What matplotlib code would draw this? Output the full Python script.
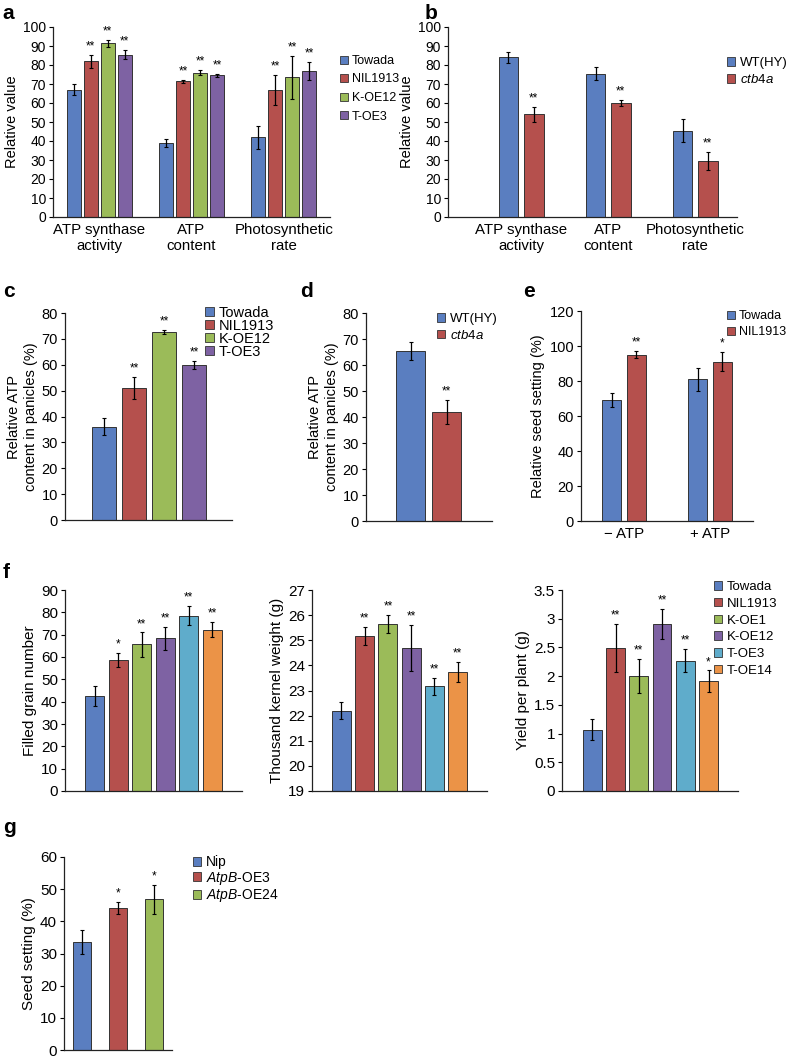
import numpy as np
import matplotlib.pyplot as plt
from matplotlib.patches import Patch
from matplotlib.ticker import FuncFormatter

plt.rcParams['font.family'] = ['Liberation Sans', 'DejaVu Sans']
plt.rcParams['mathtext.fontset'] = 'custom'
plt.rcParams['mathtext.it'] = 'Liberation Sans:italic'
plt.rcParams['mathtext.rm'] = 'Liberation Sans'

W, H = 788, 1059

# ---- data ----
blue, red, green, purple, cyan, orange = '#5A7EC0', '#B5504D', '#9BBB59', '#7E62A3', '#5FACCB', '#EB9347'
edge = '#333333'

# a
a_groups = ['ATP synthase\nactivity', 'ATP\ncontent', 'Photosynthetic\nrate']
a_lines = ['Towada', 'NIL1913', 'K-OE12', 'T-OE3']
a_towada = [67, 39, 42]
a_towada_err = [3, 2, 6]
a_nil = [82, 71.5, 67]
a_nil_err = [3.5, 0.8, 8]
a_koe12 = [91.5, 76, 73.5]
a_koe12_err = [1.8, 1.5, 11.5]
a_toe3 = [85.5, 74.5, 77]
a_toe3_err = [2.3, 0.7, 4.8]

# b
b_lines = ['WT(HY)', r'$\mathit{ctb4a}$']
b_wt = [84, 75.5, 45.5]
b_wt_err = [2.7, 3.5, 6]
b_ctb = [54, 60, 29.5]
b_ctb_err = [4, 1.5, 4.8]

# c
c_vals = [36, 51, 72.5, 60]
c_err = [3.3, 4.2, 0.8, 1.5]
c_stars = ['', '**', '**', '**']

# d
d_lines = ['WT(HY)', r'$\mathit{ctb4a}$']
d_vals = [65.5, 42]
d_err = [3.5, 4.6]

# e
e_groups = ['\u2212 ATP', '+ ATP']
e_lines = ['Towada', 'NIL1913']
e_towada = [69, 81]
e_towada_err = [4, 6.5]
e_nil = [95, 91]
e_nil_err = [2, 5.4]
e_stars = ['**', '*']

# f
f_lines = ['Towada', 'NIL1913', 'K-OE1', 'K-OE12', 'T-OE3', 'T-OE14']
f_grain = [42.5, 58.6, 65.6, 68.3, 78.5, 72.3]
f_grain_err = [4.5, 3.3, 5.4, 5.2, 4.3, 3.5]
f_grain_stars = ['', '*', '**', '**', '**', '**']
f_tkw = [22.2, 25.17, 25.65, 24.68, 23.17, 23.75]
f_tkw_err = [0.33, 0.35, 0.35, 0.92, 0.33, 0.4]
f_tkw_stars = ['', '**', '**', '**', '**', '**']
f_yield = [1.07, 2.49, 2.0, 2.91, 2.27, 1.91]
f_yield_err = [0.18, 0.42, 0.3, 0.26, 0.2, 0.19]
f_yield_stars = ['', '**', '**', '**', '**', '*']

# g
g_lines = ['Nip', r'$\mathit{AtpB}$-OE3', r'$\mathit{AtpB}$-OE24']
g_vals = [33.6, 44.2, 46.8]
g_err = [3.6, 1.8, 4.6]
g_stars = ['', '*', '*']

fig = plt.figure(figsize=(W / 100, H / 100), dpi=100)


def make_ax(x0, y0, x1, y1):
    return fig.add_axes([x0 / W, 1 - y1 / H, (x1 - x0) / W, (y1 - y0) / H])


def style(ax, lo, hi, step, fs, xlim):
    for s in ['top', 'right']:
        ax.spines[s].set_visible(False)
    for s in ['left', 'bottom']:
        ax.spines[s].set_linewidth(0.9)
        ax.spines[s].set_color('#222222')
    ax.set_ylim(lo, hi)
    ax.set_yticks(np.arange(lo, hi + step / 2, step))
    ax.yaxis.set_major_formatter(FuncFormatter(lambda v, p: '{:g}'.format(round(v, 2))))
    ax.tick_params(axis='y', labelsize=fs, length=3, width=0.8, pad=2)
    ax.tick_params(axis='x', labelsize=fs, length=0, pad=4)
    ax.set_xlim(*xlim)
    ax.set_xticks([])


def bars(ax, xs, vals, errs, colors, width, stars, star_fs=8.5):
    ax.bar(xs, vals, width, color=colors, edgecolor=edge, linewidth=0.7,
           yerr=errs, ecolor='black', error_kw=dict(elinewidth=0.9, capsize=1.2, capthick=0.8))
    lo, hi = ax.get_ylim()
    for x, v, e, s in zip(xs, vals, errs, stars):
        if s:
            ax.text(x, v + e + (hi - lo) * 0.012, s, ha='center', va='bottom', fontsize=star_fs)


def legend(ax, labels, colors, x, y, fs, spacing):
    handles = [Patch(facecolor=c, edgecolor=edge, linewidth=0.6) for c in colors]
    ax.legend(handles, labels, loc='upper left', bbox_to_anchor=(x / W, 1 - y / H),
              bbox_transform=fig.transFigure, frameon=False, fontsize=fs,
              handlelength=0.6, handleheight=0.6, handletextpad=0.35,
              labelspacing=spacing, borderpad=0, borderaxespad=0)


def letter(x, y, s):
    fig.text(x / W, 1 - y / H, s, fontsize=15, fontweight='bold', va='baseline', ha='left')


# ---- a ----
ax = make_ax(53, 27, 330, 217)
style(ax, 0, 100, 10, 10, (-0.5, 2.5))
gx = np.arange(3)
pitch, bw = 0.184, 0.152
series = [(a_towada, a_towada_err, blue, ['', '', '']),
          (a_nil, a_nil_err, red, ['**'] * 3),
          (a_koe12, a_koe12_err, green, ['**'] * 3),
          (a_toe3, a_toe3_err, purple, ['**'] * 3)]
for i, (v, e, c, st) in enumerate(series):
    bars(ax, gx + (i - 1.5) * pitch, v, e, c, bw, st)
ax.set_xticks(gx)
ax.set_xticklabels(a_groups, fontsize=10.8)
ax.set_ylabel('Relative value', fontsize=10.5, labelpad=3)
legend(ax, a_lines, [blue, red, green, purple], 340, 55, 9, 0.52)
letter(2, 19, 'a')

# ---- b ----
ax = make_ax(448, 27, 737, 217)
style(ax, 0, 100, 10, 10, (-0.84, 2.48))
pitch, bw = 0.29, 0.225
bars(ax, gx - pitch / 2, b_wt, b_wt_err, blue, bw, ['', '', ''])
bars(ax, gx + pitch / 2, b_ctb, b_ctb_err, red, bw, ['**'] * 3)
ax.set_xticks(gx)
ax.set_xticklabels(a_groups, fontsize=10.8)
ax.set_ylabel('Relative value', fontsize=10.5, labelpad=3)
legend(ax, b_lines, [blue, red], 727, 57, 9.5, 0.32)
letter(425, 19, 'b')

# ---- c ----
ax = make_ax(65, 313, 232, 520)
style(ax, 0, 80, 10, 10.5, (-1.3, 4.27))
bars(ax, np.arange(4), c_vals, c_err, [blue, red, green, purple], 0.8, c_stars)
ax.set_ylabel('Relative ATP\ncontent in panicles (%)', fontsize=10.5, labelpad=3)
legend(ax, a_lines, [blue, red, green, purple], 205, 306, 10.5, -0.08)
letter(3, 297, 'c')

# ---- d ----
ax = make_ax(366, 313, 492, 521)
style(ax, 0, 80, 10, 10.5, (-1.24, 2.26))
bars(ax, np.arange(2), d_vals, d_err, [blue, red], 0.8, ['', '**'])
ax.set_ylabel('Relative ATP\ncontent in panicles (%)', fontsize=10.5, labelpad=3)
legend(ax, d_lines, [blue, red], 437, 313, 9.5, 0.3)
letter(300, 297, 'd')

# ---- e ----
ax = make_ax(581, 311, 753, 521)
style(ax, 0, 120, 20, 10.5, (-0.5, 1.5))
ex = np.arange(2)
pitch, bw = 0.29, 0.23
bars(ax, ex - pitch / 2, e_towada, e_towada_err, blue, bw, ['', ''])
bars(ax, ex + pitch / 2, e_nil, e_nil_err, red, bw, e_stars)
ax.set_xticks(ex)
ax.set_xticklabels(e_groups, fontsize=10.8)
ax.set_ylabel('Relative seed setting (%)', fontsize=10.5, labelpad=3)
legend(ax, e_lines, [blue, red], 727, 310, 9, 0.35)
letter(523, 297, 'e')

# ---- f ----
fcolors = [blue, red, green, purple, cyan, orange]
fx = np.arange(6)
ax = make_ax(65, 590, 242, 791)
style(ax, 0, 90, 10, 11, (-1.26, 6.26))
bars(ax, fx, f_grain, f_grain_err, fcolors, 0.81, f_grain_stars)
ax.set_ylabel('Filled grain number', fontsize=11, labelpad=3)
letter(3, 578, 'f')

ax = make_ax(312, 590, 487, 791)
style(ax, 19, 27, 1, 11, (-1.27, 6.27))
bars(ax, fx, f_tkw, f_tkw_err, fcolors, 0.81, f_tkw_stars)
ax.set_ylabel('Thousand kernel weight (g)', fontsize=11, labelpad=3)

ax = make_ax(562, 590, 738, 791)
style(ax, 0, 3.5, 0.5, 11, (-1.31, 6.27))
bars(ax, fx, f_yield, f_yield_err, fcolors, 0.81, f_yield_stars)
ax.set_ylabel('Yield per plant (g)', fontsize=11, labelpad=3)
legend(ax, f_lines, fcolors, 714, 581, 9.5, 0.36)

# ---- g ----
ax = make_ax(64, 857, 172, 1050)
style(ax, 0, 60, 10, 11, (-0.5, 2.5))
bars(ax, np.arange(3), g_vals, g_err, [blue, red, green], 0.5, g_stars)
ax.set_ylabel('Seed setting (%)', fontsize=11, labelpad=3)
legend(ax, g_lines, [blue, red, green], 193, 855, 10, 0.05)
letter(3, 833, 'g')

fig.savefig('out.png', dpi=100)
